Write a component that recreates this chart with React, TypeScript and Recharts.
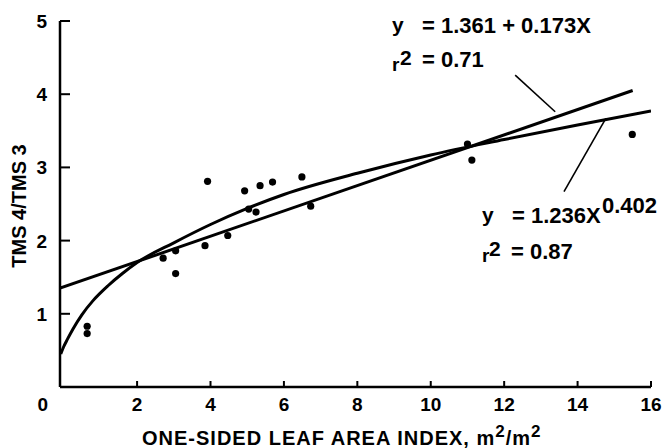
import React from 'react';
import { ComposedChart, XAxis, YAxis, Line, Scatter, ReferenceLine } from 'recharts';

// Axis ticks
const xTicks = [0, 2, 4, 6, 8, 10, 12, 14, 16];
const yTicks = [1, 2, 3, 4, 5];

// Observations: one-sided leaf area index vs TMS4/TMS3
const laiValues = [0.64, 0.64, 2.71, 3.05, 3.05, 3.85, 4.47, 3.92, 4.93, 5.35, 5.69, 6.49, 5.04, 5.24, 6.73, 11.0, 11.12, 15.49];
const ratioValues = [0.83, 0.73, 1.76, 1.86, 1.55, 1.93, 2.07, 2.81, 2.68, 2.75, 2.8, 2.87, 2.43, 2.39, 2.47, 3.32, 3.1, 3.45];

// Linear fit line (end points as drawn)
const linearFitX = [-0.1, 15.5];
const linearFitY = [1.35, 4.05];

// Power fit curve (as drawn)
const powerFitX = [-0.08, 0, 0.1, 0.25, 0.5, 0.8, 1.2, 1.6, 2, 3, 4, 5, 6, 8, 10, 12, 14, 16];
const powerFitY = [0.45, 0.55, 0.65, 0.79, 0.99, 1.18, 1.38, 1.55, 1.7, 1.97, 2.22, 2.44, 2.63, 2.92, 3.17, 3.38, 3.58, 3.77];

// Annotation pointer segments [x, y]
const linearPointer = [[12.3, 4.26], [13.39, 3.76]];
const powerPointer = [[14.77, 3.67], [13.63, 2.67]];

const points = laiValues.map((x, i) => ({ x, y: ratioValues[i] }));
const linearData = linearFitX.map((x, i) => ({ x, y: linearFitY[i] }));
const powerData = powerFitX.map((x, i) => ({ x, y: powerFitY[i] }));

const FONT = '"Liberation Sans", Arial, Helvetica, sans-serif';

const YTick = (props: any) => {
  const { x, y, payload } = props;
  return (
    <g>
      <line x1={x} y1={y} x2={x + 10} y2={y} stroke="#000" strokeWidth={2} />
      <text x={x - 13} y={y + 7} textAnchor="end" fontSize={19} fontWeight="bold" fontFamily={FONT} fill="#000">
        {payload.value}
      </text>
    </g>
  );
};

const XTick = (props: any) => {
  const { x, y, payload } = props;
  const isZero = payload.value === 0;
  return (
    <g>
      {!isZero && <line x1={x} y1={y} x2={x} y2={y - 6} stroke="#000" strokeWidth={2} />}
      <text x={isZero ? x - 21 : x} y={y + 24} textAnchor="middle" fontSize={19} fontWeight="bold" fontFamily={FONT} fill="#000">
        {payload.value}
      </text>
    </g>
  );
};

const Dot = (props: any) => <circle cx={props.cx} cy={props.cy} r={3.6} fill="#000" />;

export default function App() {
  const textStyle = { fontFamily: FONT, fontWeight: 'bold' as const, fill: '#000' };
  return (
    <div style={{ position: 'absolute', left: 0, top: 0, width: 667, height: 448, background: '#fff' }}>
      <ComposedChart width={667} height={448} margin={{ top: 21, right: 16, left: 0, bottom: 0 }}>
        <XAxis
          type="number"
          dataKey="x"
          domain={[-0.1, 16]}
          ticks={xTicks}
          allowDataOverflow
          height={61}
          tickSize={0}
          tickMargin={0}
          tickLine={false}
          axisLine={{ stroke: '#000', strokeWidth: 2.5 }}
          tick={XTick}
          interval={0}
        />
        <YAxis
          type="number"
          dataKey="y"
          domain={[0, 5]}
          ticks={yTicks}
          allowDataOverflow
          width={60}
          tickSize={0}
          tickMargin={0}
          tickLine={false}
          axisLine={{ stroke: '#000', strokeWidth: 2.5 }}
          tick={YTick}
          interval={0}
        />
        <Line data={linearData} dataKey="y" type="linear" stroke="#000" strokeWidth={3} dot={false} isAnimationActive={false} />
        <Line data={powerData} dataKey="y" type="monotone" stroke="#000" strokeWidth={3} dot={false} isAnimationActive={false} />
        <Scatter data={points} dataKey="y" fill="#000" shape={Dot} isAnimationActive={false} />
        <ReferenceLine
          segment={[{ x: linearPointer[0][0], y: linearPointer[0][1] }, { x: linearPointer[1][0], y: linearPointer[1][1] }]}
          stroke="#000"
          strokeWidth={1.6}
          ifOverflow="visible"
        />
        <ReferenceLine
          segment={[{ x: powerPointer[0][0], y: powerPointer[0][1] }, { x: powerPointer[1][0], y: powerPointer[1][1] }]}
          stroke="#000"
          strokeWidth={1.6}
          ifOverflow="visible"
        />
      </ComposedChart>
      <svg width={667} height={448} style={{ position: 'absolute', left: 0, top: 0, pointerEvents: 'none' }}>
        {/* Linear fit annotation */}
        <text x={392} y={32} fontSize={21} {...textStyle}>y</text>
        <text x={422} y={33} fontSize={22} {...textStyle}>= 1.361 + 0.173X</text>
        <text x={392} y={71} fontSize={19} {...textStyle}>r</text>
        <text x={400} y={65} fontSize={21} {...textStyle}>2</text>
        <text x={422} y={67} fontSize={22} {...textStyle}>= 0.71</text>
        {/* Power fit annotation */}
        <text x={482} y={222} fontSize={21} {...textStyle}>y</text>
        <text x={512} y={223} fontSize={22} {...textStyle}>= 1.236X</text>
        <text x={602} y={213} fontSize={22} {...textStyle}>0.402</text>
        <text x={482} y={262} fontSize={19} {...textStyle}>r</text>
        <text x={489} y={256} fontSize={21} {...textStyle}>2</text>
        <text x={511} y={259} fontSize={22} {...textStyle}>= 0.87</text>
        {/* Axis titles */}
        <text x={26} y={206} fontSize={20} textAnchor="middle" transform="rotate(-90 26 206)" {...textStyle}>
          TMS 4/TMS 3
        </text>
        <text x={142} y={445} fontSize={20} letterSpacing={1.0} {...textStyle}>
          ONE-SIDED LEAF AREA INDEX, m
          <tspan fontSize={17} dy={-8}>2</tspan>
          <tspan dy={8}>/m</tspan>
          <tspan fontSize={17} dy={-8}>2</tspan>
        </text>
      </svg>
    </div>
  );
}
